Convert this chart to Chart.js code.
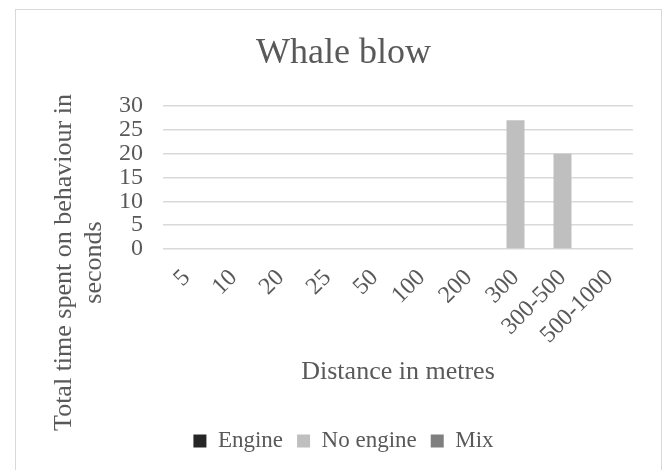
<!DOCTYPE html>
<html>
<head>
<meta charset="utf-8">
<script src="https://cdn.jsdelivr.net/npm/chart.js@4.4.0/dist/chart.umd.min.js"></script>
<style>
  html, body { margin: 0; padding: 0; background: #ffffff; }
  #wrap { position: relative; width: 663px; height: 470px; }
</style>
</head>
<body>
<div id="wrap"><canvas id="c" width="663" height="470"></canvas></div>
<script>
const categories = ['5', '10', '20', '25', '50', '100', '200', '300', '300-500', '500-1000'];
const engineValues   = [0, 0, 0, 0, 0, 0, 0, 0, 0, 0];
const noEngineValues = [0, 0, 0, 0, 0, 0, 0, 27, 20, 0];
const mixValues      = [0, 0, 0, 0, 0, 0, 0, 0, 0, 0];
const yMin = 0, yMax = 30, yStep = 5;
const chartTitle = 'Whale blow';
const xTitle = 'Distance in metres';
const yTitleLines = ['Total time spent on behaviour in', 'seconds'];

const FONT = '"Liberation Serif", "Times New Roman", serif';
const TEXT = '#595959';

const frame = {
  id: 'frame',
  beforeDraw(chart) {
    const ctx = chart.ctx;
    ctx.save();
    ctx.fillStyle = '#ffffff';
    ctx.fillRect(0, 0, chart.width, chart.height);
    ctx.strokeStyle = '#d9d9d9';
    ctx.lineWidth = 1;
    ctx.strokeRect(15.5, 9.5, 646, 480);
    ctx.restore();
  }
};

const yTitlePlugin = {
  id: 'yTitle',
  afterDraw(chart) {
    const ctx = chart.ctx;
    ctx.save();
    ctx.fillStyle = TEXT;
    ctx.font = '26px ' + FONT;
    ctx.textAlign = 'center';
    ctx.textBaseline = 'alphabetic';
    const cy = 262.5;
    const xs = [71, 101];
    yTitleLines.forEach((t, i) => {
      ctx.save();
      ctx.translate(xs[i], cy);
      ctx.rotate(-Math.PI / 2);
      ctx.fillText(t, 0, 0);
      ctx.restore();
    });
    ctx.restore();
  }
};

new Chart(document.getElementById('c'), {
  type: 'bar',
  data: {
    labels: categories,
    datasets: [
      { label: 'Engine', data: engineValues, backgroundColor: '#262626' },
      { label: 'No engine', data: noEngineValues, backgroundColor: '#bfbfbf' },
      { label: 'Mix', data: mixValues, backgroundColor: '#7f7f7f' }
    ]
  },
  options: {
    responsive: false,
    animation: false,
    devicePixelRatio: 1,
    layout: { padding: { left: 54, right: 30, top: 8, bottom: 7.5 } },
    datasets: { bar: { barThickness: 18, inflateAmount: 0, borderWidth: 0 } },
    plugins: {
      title: {
        display: true,
        text: chartTitle,
        color: TEXT,
        font: { family: FONT, size: 36, weight: 'normal', lineHeight: 1.2 },
        padding: { top: 24, bottom: 30.8 }
      },
      legend: {
        position: 'bottom',
        labels: {
          color: TEXT,
          boxWidth: 13,
          boxHeight: 13,
          padding: 14,
          font: { family: FONT, size: 23 }
        }
      },
      tooltip: { enabled: false }
    },
    scales: {
      x: {
        grid: { display: false, drawTicks: false },
        border: { display: false },
        ticks: {
          color: TEXT,
          font: { family: FONT, size: 24 },
          minRotation: 45,
          maxRotation: 45,
          autoSkip: false,
          padding: 15,
          labelOffset: 0
        },
        title: {
          display: true,
          text: xTitle,
          color: TEXT,
          font: { family: FONT, size: 26, lineHeight: 1.2 },
          padding: { top: 0, bottom: 27.9 }
        },
        afterFit(scale) { scale.height = 166.5; }
      },
      y: {
        min: yMin,
        max: yMax,
        grid: { color: '#d9d9d9', lineWidth: 1.5, drawTicks: false },
        border: { display: false },
        ticks: {
          stepSize: yStep,
          autoSkip: false,
          color: TEXT,
          font: { family: FONT, size: 24 },
          padding: 20
        },
        afterFit(scale) { scale.width = 109; }
      }
    }
  },
  plugins: [frame, yTitlePlugin]
});
</script>
</body>
</html>
